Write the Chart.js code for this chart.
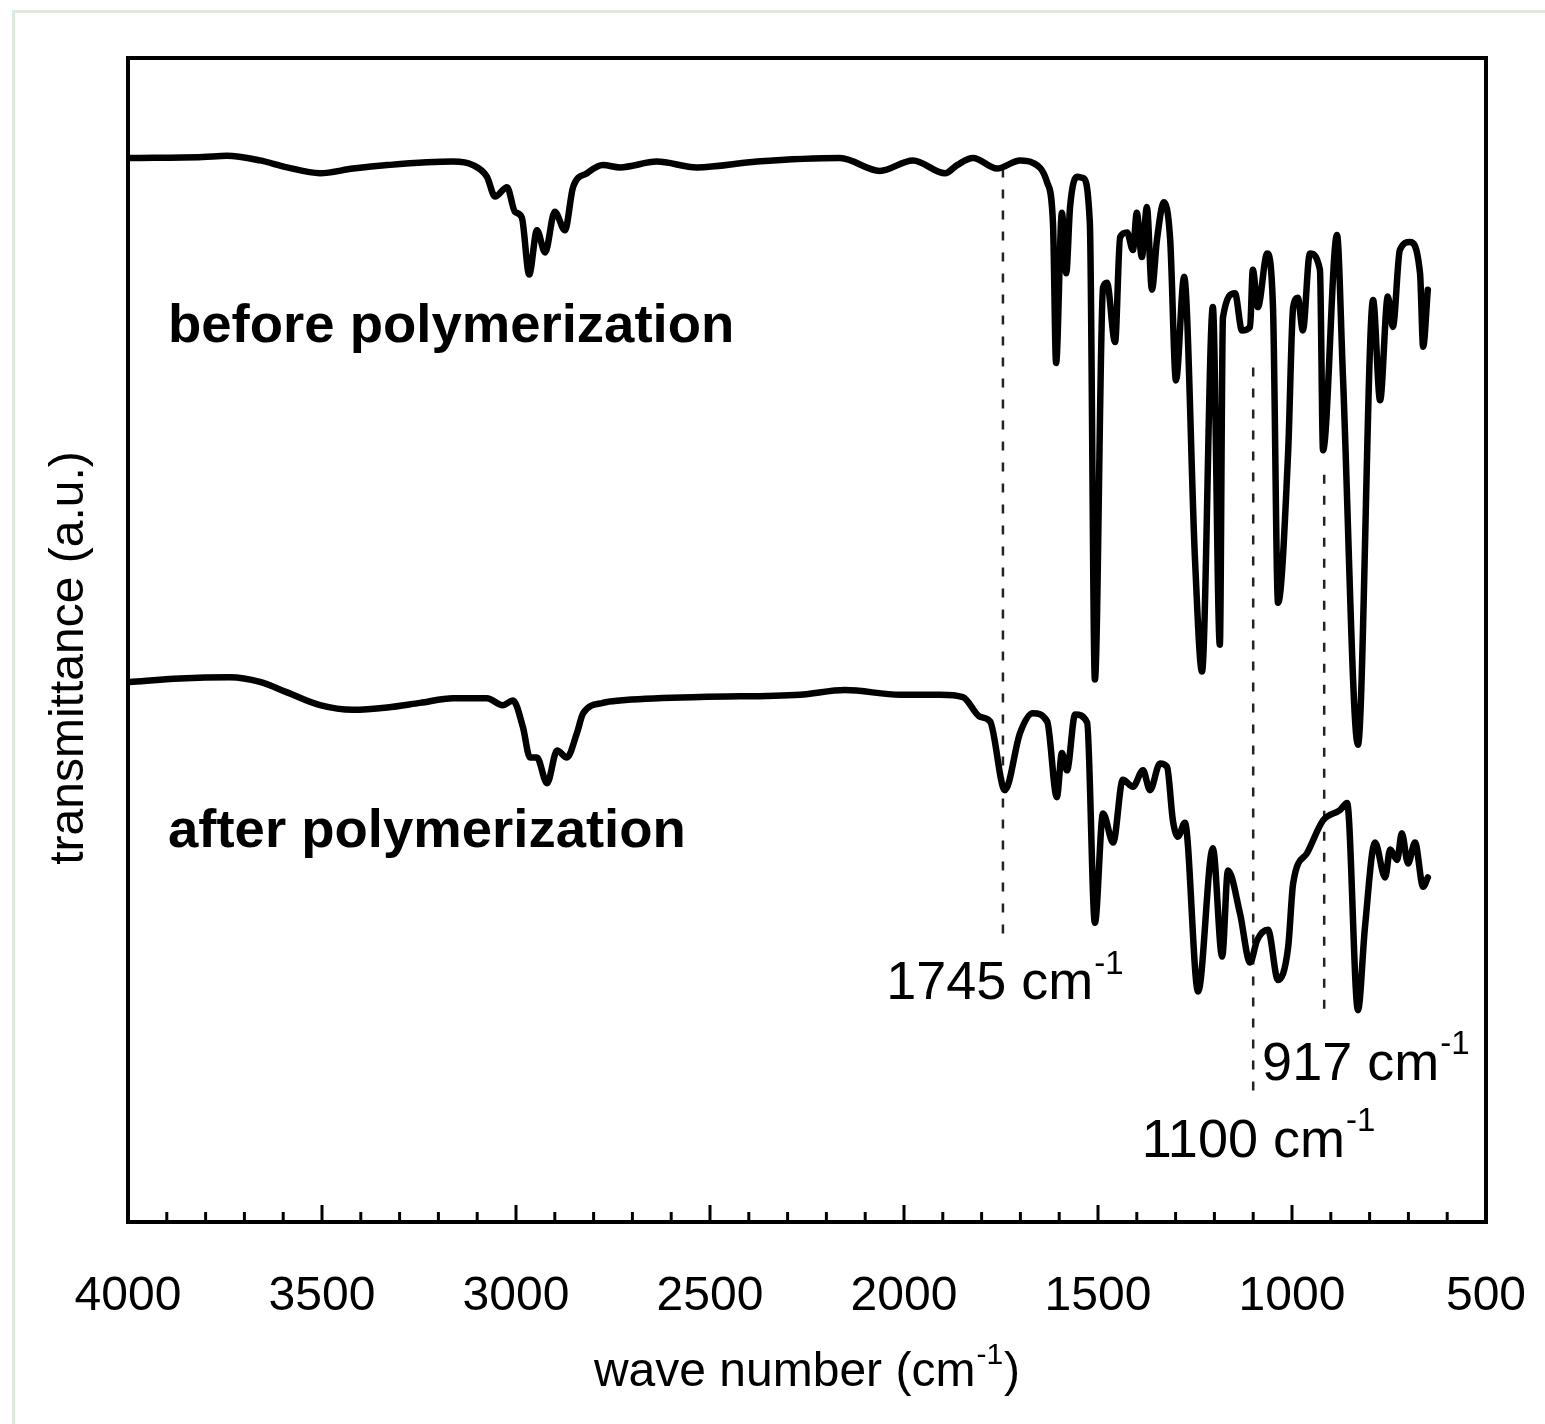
<!DOCTYPE html>
<html>
<head>
<meta charset="utf-8">
<script src="https://cdn.jsdelivr.net/npm/chart.js@4.4.1/dist/chart.umd.min.js"></script>
<style>
  html, body { margin: 0; padding: 0; background: #fff; }
  #wrap { position: relative; width: 1545px; height: 1424px; overflow: hidden; }
  #frame { position: absolute; left: 12px; top: 10px; width: 1600px; height: 1500px; border: 3px solid #dcebdc; }
  canvas { position: absolute; left: 0; top: 0; }
</style>
</head>
<body>
<div id="wrap"><div id="frame"></div><canvas id="ir-chart" width="1545" height="1424"></canvas></div>
<script>
// wave numbers (cm-1) and transmittance (a.u.)
const beforeWave = [3995, 3807, 3745, 3660, 3590, 3505, 3420, 3332, 3162, 3111, 3075, 3054, 3023, 3003, 2985, 2966, 2946, 2925, 2900, 2874, 2853, 2817, 2776, 2732, 2637, 2534, 2379, 2165, 2062, 1977, 1894, 1863, 1822, 1760, 1701, 1668, 1631, 1616, 1608, 1593, 1582, 1572, 1554, 1539, 1521, 1508, 1487, 1477, 1456, 1443, 1425, 1410, 1400, 1387, 1374, 1361, 1348, 1330, 1314, 1299, 1278, 1250, 1232, 1204, 1186, 1178, 1147, 1129, 1108, 1101, 1088, 1064, 1049, 1036, 1010, 997, 985, 972, 954, 928, 920, 884, 869, 830, 791, 773, 753, 740, 722, 696, 670, 662, 650];
const beforeT = [91.4, 91.5, 91.6, 91.2, 90.6, 90.1, 90.5, 90.8, 91.1, 90.8, 89.8, 88.1, 88.9, 86.8, 86.3, 81.4, 85.2, 83.3, 86.8, 85.2, 88.9, 90.1, 90.8, 90.6, 91.1, 90.6, 91.1, 91.4, 90.3, 91.2, 90.1, 90.8, 91.4, 90.5, 91.2, 91.0, 89.3, 85.8, 73.8, 86.7, 81.5, 87.2, 89.8, 89.7, 85.8, 46.6, 80.3, 80.7, 75.6, 84.6, 85.0, 83.5, 86.7, 82.9, 87.2, 80.1, 84.4, 87.6, 84.4, 72.3, 81.2, 56.9, 47.3, 78.6, 49.6, 77.7, 79.8, 76.6, 76.9, 81.8, 78.6, 83.2, 78.6, 53.2, 66.1, 78.6, 79.4, 76.6, 83.2, 81.8, 66.3, 84.8, 72.9, 41.0, 79.2, 70.6, 79.5, 76.9, 83.5, 84.2, 81.5, 75.2, 80.1];

const afterWave = [3995, 3866, 3737, 3660, 3590, 3505, 3420, 3332, 3247, 3162, 3075, 3034, 3008, 2982, 2964, 2946, 2920, 2894, 2869, 2843, 2827, 2776, 2732, 2526, 2268, 2152, 2010, 1907, 1848, 1804, 1778, 1740, 1701, 1668, 1631, 1606, 1593, 1580, 1559, 1528, 1508, 1487, 1461, 1436, 1410, 1384, 1366, 1340, 1322, 1307, 1294, 1276, 1242, 1204, 1180, 1165, 1134, 1108, 1090, 1062, 1036, 1010, 997, 961, 920, 876, 858, 830, 812, 786, 760, 747, 729, 717, 701, 683, 662, 650];
const afterT = [46.4, 46.7, 46.8, 46.4, 45.5, 44.4, 44.0, 44.2, 44.6, 45.0, 45.0, 44.4, 44.8, 42.5, 39.9, 39.9, 37.7, 40.5, 39.9, 42.0, 43.7, 44.6, 44.8, 45.1, 45.3, 45.7, 45.3, 45.3, 45.1, 43.4, 43.0, 37.1, 42.0, 43.7, 43.0, 36.5, 40.3, 38.8, 43.6, 42.9, 25.7, 35.1, 32.6, 38.0, 37.4, 38.8, 37.1, 39.4, 39.1, 34.5, 33.1, 34.3, 19.8, 32.1, 22.8, 30.2, 26.5, 22.3, 24.2, 25.1, 20.8, 23.6, 29.1, 31.7, 34.5, 35.4, 36.0, 18.2, 25.3, 32.6, 29.6, 32.0, 31.1, 33.4, 30.8, 32.6, 28.8, 29.6];

// marked bands: dashed line from top to bottom value, label anchored at (labelWave, labelT)
const markWave = [1745, 1100, 917];
const markTop = [90.5, 73.4, 64.2];
const markBottom = [23.8, 11.3, 18.0];
const markLabelWave = [2046, 1387, 1077];
const markLabelT = [20.4, 6.9, 13.5];

const curveNames = ["before polymerization", "after polymerization"];
const curveLabelWave = 3897;
const curveLabelT = [76.9, 33.5];

const xTickValues = [4000, 3500, 3000, 2500, 2000, 1500, 1000, 500];

const FONT = '"Liberation Sans", Arial, Helvetica, sans-serif';

const toPoints = (xs, ys) => xs.map((x, i) => ({ x, y: ys[i] }));

const spectrum = (data) => ({
  data,
  borderColor: "#000",
  borderWidth: 6.5,
  pointRadius: 0,
  cubicInterpolationMode: "monotone",
  borderJoinStyle: "round",
  borderCapStyle: "round",
  fill: false,
});

const markerSets = markWave.map((w, i) => ({
  data: [{ x: w, y: markTop[i] }, { x: w, y: markBottom[i] }],
  borderColor: "#222",
  borderWidth: 2.5,
  borderDash: [9, 12],
  pointRadius: 0,
  fill: false,
}));

// draws parts like [["1745 cm"], ["-1", true]] with superscripts
const drawParts = (ctx, parts, x, y, size, align, weight = "") => {
  const supSize = Math.round(size * 0.62);
  const widths = parts.map(([t, sup]) => {
    ctx.font = `${weight} ${sup ? supSize : size}px ${FONT}`;
    return ctx.measureText(t).width + (sup ? 2 : 0);
  });
  const total = widths.reduce((a, b) => a + b, 0);
  let cx = align === "center" ? x - total / 2 : x;
  ctx.textAlign = "left";
  ctx.textBaseline = "middle";
  parts.forEach(([t, sup], i) => {
    ctx.font = `${weight} ${sup ? supSize : size}px ${FONT}`;
    ctx.fillText(t, cx + (sup ? 1 : 0), sup ? y - size * 0.37 : y);
    cx += widths[i];
  });
};

const irDecor = {
  id: "irDecor",
  afterDatasetsDraw(chart) {
    const { ctx, chartArea: a, scales: { x, y } } = chart;
    ctx.save();
    ctx.strokeStyle = "#000";
    ctx.fillStyle = "#000";

    // axis box
    ctx.lineWidth = 4;
    ctx.strokeRect(a.left, a.top, a.right - a.left, a.bottom - a.top);

    // inward ticks, every 100, longer every 500
    ctx.lineWidth = 3;
    for (let w = 3900; w > 500; w -= 100) {
      const px = x.getPixelForValue(w);
      const len = w % 500 === 0 ? 17 : 10;
      ctx.beginPath();
      ctx.moveTo(px, a.bottom);
      ctx.lineTo(px, a.bottom - len);
      ctx.stroke();
    }

    // curve names
    curveNames.forEach((name, i) => {
      drawParts(ctx, [[name]], x.getPixelForValue(curveLabelWave), y.getPixelForValue(curveLabelT[i]), 54.5, "left", "bold");
    });

    // band labels
    markWave.forEach((w, i) => {
      drawParts(ctx, [[`${w} cm`], ["-1", true]], x.getPixelForValue(markLabelWave[i]), y.getPixelForValue(markLabelT[i]), 54, "left");
    });

    // axis titles
    drawParts(ctx, [["wave number (cm"], ["-1", true], [")"]], (a.left + a.right) / 2, 1373, 48, "center");
    ctx.translate(a.left - 58, (a.top + a.bottom) / 2 + 18);
    ctx.rotate(-Math.PI / 2);
    drawParts(ctx, [["transmittance (a.u.)"]], 0, 0, 48, "center");
    ctx.restore();
  },
};

new Chart(document.getElementById("ir-chart").getContext("2d"), {
  type: "line",
  data: {
    datasets: [
      spectrum(toPoints(beforeWave, beforeT)),
      spectrum(toPoints(afterWave, afterT)),
      ...markerSets,
    ],
  },
  options: {
    responsive: false,
    devicePixelRatio: 1,
    animation: false,
    layout: { padding: { left: 128, right: 59, top: 58, bottom: 0 } },
    plugins: { legend: { display: false }, tooltip: { enabled: false } },
    scales: {
      x: {
        type: "linear",
        reverse: true,
        min: 500,
        max: 4000,
        afterBuildTicks: (scale) => {
          scale.ticks = xTickValues.map((value) => ({ value }));
        },
        afterFit: (scale) => {
          scale.height = 202;
          scale.paddingLeft = 0;
          scale.paddingRight = 0;
        },
        grid: { display: false, drawTicks: false },
        border: { display: false },
        ticks: {
          color: "#000",
          padding: 46,
          maxRotation: 0,
          autoSkip: false,
          callback: (value) => String(value),
          font: { family: FONT, size: 48 },
        },
      },
      y: {
        display: false,
        min: 0,
        max: 100,
      },
    },
  },
  plugins: [irDecor],
});
</script>
</body>
</html>
